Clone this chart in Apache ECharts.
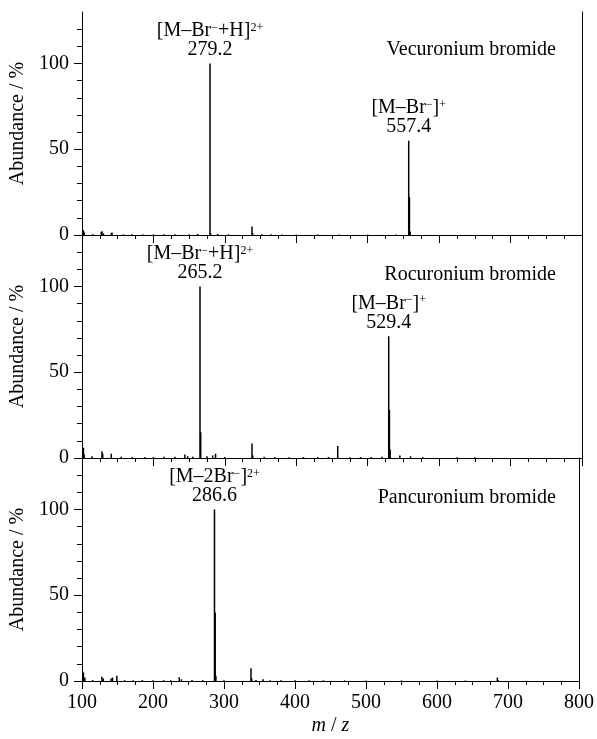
<!DOCTYPE html>
<html>
<head>
<meta charset="utf-8">
<script src="https://cdn.jsdelivr.net/npm/echarts@6/dist/echarts.min.js"></script>
<style>
html, body { margin: 0; padding: 0; background: #fff; }
#chart { width: 597px; height: 739px; }
</style>
</head>
<body>
<div id="chart"></div>
<script>
// tick values
var xTickLabels = [100, 200, 300, 400, 500, 600, 700, 800];
var yLabelValues = [0, 50, 100];
var yMinorValues = [10, 20, 30, 40, 60, 70, 80, 90, 110, 120];
var yMax = 130;

// Vecuronium bromide
var vecMz = [101, 102, 103, 115, 127, 128, 130, 141, 142, 158, 170, 185, 200, 215, 230, 250, 262, 279.2, 280.2, 290, 305, 338, 339, 352, 365, 380, 400, 430, 460, 500, 540, 557.4, 558.4, 559.4];
var vecAb = [1.5, 2.8, 1.5, 0.5, 1.8, 2.2, 1, 1, 1.5, 0.4, 0.5, 0.4, 0.4, 0.4, 0.5, 0.5, 0.6, 100, 1, 0.6, 0.4, 5, 1, 0.5, 0.4, 0.3, 0.3, 0.3, 0.3, 0.3, 0.3, 55, 22, 2];
var vecAnnoMz = [279.2, 557.4];
var vecAnnoText = ['[M–Br{s|−}+H]{s|2+}', '[M–Br{s|−}]{s|+}'];

// Rocuronium bromide
var rocMz = [101, 102, 103, 114, 128, 129, 141, 155, 170, 188, 200, 215, 230, 244, 248, 255, 265.2, 266.2, 275, 283, 287, 300, 338, 339, 355, 370, 390, 410, 430, 445, 458, 475, 490, 505, 520, 529.4, 530.4, 531.4, 545, 560, 577, 625, 650];
var rocAb = [3, 6, 2, 1, 4, 2.5, 2.5, 0.8, 0.6, 0.6, 0.6, 0.8, 0.8, 2, 1, 0.8, 100, 15, 1, 1.5, 2.5, 0.6, 8.5, 1.5, 0.8, 0.6, 0.5, 0.6, 0.5, 0.6, 7, 0.5, 0.6, 0.6, 0.8, 71, 28, 5, 1.5, 1, 0.5, 0.5, 0.4];
var rocAnnoMz = [265.2, 529.4];
var rocAnnoText = ['[M–Br{s|−}+H]{s|2+}', '[M–Br{s|−}]{s|+}'];

// Pancuronium bromide
var panMz = [101, 102, 104, 115, 128, 130, 141, 143, 149, 160, 172, 185, 200, 215, 225, 237, 240, 255, 270, 286.6, 287.6, 288.6, 300, 338, 339, 345, 355, 365, 380, 400, 420, 440, 470, 500, 550, 600, 640, 685, 686];
var panAb = [2, 5, 2, 0.6, 2.5, 1.5, 1.5, 2, 3, 0.5, 0.5, 0.6, 0.4, 0.5, 0.5, 2.2, 1, 0.6, 0.5, 100, 40, 3, 0.5, 7.5, 1.5, 0.6, 1, 0.5, 0.4, 0.4, 0.4, 0.4, 0.3, 0.3, 0.3, 0.3, 0.3, 2, 0.6];
var panAnnoMz = [286.6];
var panAnnoText = ['[M–2Br{s|−}]{s|2+}'];

var FONT = 'Liberation Serif';
var FS = 20;

var panels = [
    {name: 'Vecuronium bromide', mz: vecMz, ab: vecAb, annoMz: vecAnnoMz, annoText: vecAnnoText, nameTop: 40},
    {name: 'Rocuronium bromide', mz: rocMz, ab: rocAb, annoMz: rocAnnoMz, annoText: rocAnnoText, nameTop: 265},
    {name: 'Pancuronium bromide', mz: panMz, ab: panAb, annoMz: panAnnoMz, annoText: panAnnoText, nameTop: 488}
];

var gridTop = 12, gridH = 223;
var grids = [], xAxes = [], yAxes = [], series = [], titles = [];

panels.forEach(function (p, i) {
    var top = gridTop + gridH * i;
    var last = i === panels.length - 1;
    // main grid and a twin grid for the minor y ticks
    grids.push({left: 82, right: 15, top: top, height: gridH});
    grids.push({left: 82, right: 15, top: top, height: gridH});
    var ga = 2 * i, gb = 2 * i + 1;

    xAxes.push({
        gridIndex: ga,
        type: 'value',
        min: xTickLabels[0],
        max: xTickLabels[xTickLabels.length - 1],
        interval: 100,
        axisLine: {show: true, lineStyle: {color: '#000', width: 1}},
        axisTick: {show: true, length: 8, lineStyle: {color: '#000'}},
        minorTick: {show: true, splitNumber: 4, length: 4, lineStyle: {color: '#000'}},
        splitLine: {show: false},
        axisLabel: {show: last, color: '#000', fontFamily: FONT, fontSize: FS, margin: 12},
        name: last ? '{i|m} / {i|z}' : '',
        nameLocation: 'middle',
        nameGap: 35,
        nameTextStyle: {
            color: '#000', fontFamily: FONT, fontSize: FS,
            rich: {i: {fontStyle: 'italic', fontFamily: FONT, fontSize: FS, color: '#000'}}
        }
    });
    xAxes.push({
        gridIndex: gb, type: 'value', show: false,
        min: xTickLabels[0], max: xTickLabels[xTickLabels.length - 1]
    });

    var yMain = yAxes.length;
    yAxes.push({
        gridIndex: ga,
        type: 'value',
        position: 'left',
        min: 0,
        max: yMax,
        axisLine: {show: true, lineStyle: {color: '#000', width: 1}},
        axisTick: {show: true, length: 8, customValues: yLabelValues, lineStyle: {color: '#000'}},
        axisLabel: {customValues: yLabelValues, color: '#000', fontFamily: FONT, fontSize: FS, margin: 13},
        splitLine: {show: false},
        name: 'Abundance / %',
        nameLocation: 'middle',
        nameGap: 51,
        nameTextStyle: {color: '#000', fontFamily: FONT, fontSize: FS}
    });
    yAxes.push({
        gridIndex: ga,
        type: 'value',
        position: 'right',
        min: 0,
        max: yMax,
        axisLine: {show: true, lineStyle: {color: '#000', width: 1}},
        axisTick: {show: false},
        axisLabel: {show: false},
        splitLine: {show: false}
    });
    yAxes.push({
        gridIndex: gb,
        type: 'value',
        position: 'left',
        min: 0,
        max: yMax,
        axisLine: {show: false},
        axisTick: {show: true, length: 5, customValues: yMinorValues, lineStyle: {color: '#000'}},
        axisLabel: {show: false},
        splitLine: {show: false}
    });

    var data = p.mz.map(function (mz, k) {
        var item = {value: [mz, p.ab[k]]};
        var a = p.annoMz.indexOf(mz);
        if (a >= 0) {
            item.label = {
                show: true,
                position: 'top',
                distance: 4,
                formatter: p.annoText[a] + '\n' + mz.toFixed(1)
            };
        }
        return item;
    });

    series.push({
        type: 'bar',
        xAxisIndex: ga,
        yAxisIndex: yMain,
        barWidth: 1.5,
        itemStyle: {color: '#000'},
        label: {
            show: false,
            color: '#000',
            fontFamily: FONT,
            fontSize: FS,
            lineHeight: 19,
            rich: {s: {fontSize: 12, fontFamily: FONT, color: '#000', verticalAlign: 'top', lineHeight: 10}}
        },
        data: data
    });

    titles.push({
        text: p.name,
        right: 41,
        top: p.nameTop,
        padding: 0,
        textStyle: {color: '#000', fontFamily: FONT, fontSize: FS, fontWeight: 'normal'}
    });
});

var myChart = echarts.init(document.getElementById('chart'));
myChart.setOption({
    animation: false,
    backgroundColor: '#fff',
    title: titles,
    grid: grids,
    xAxis: xAxes,
    yAxis: yAxes,
    series: series
});
</script>
</body>
</html>
